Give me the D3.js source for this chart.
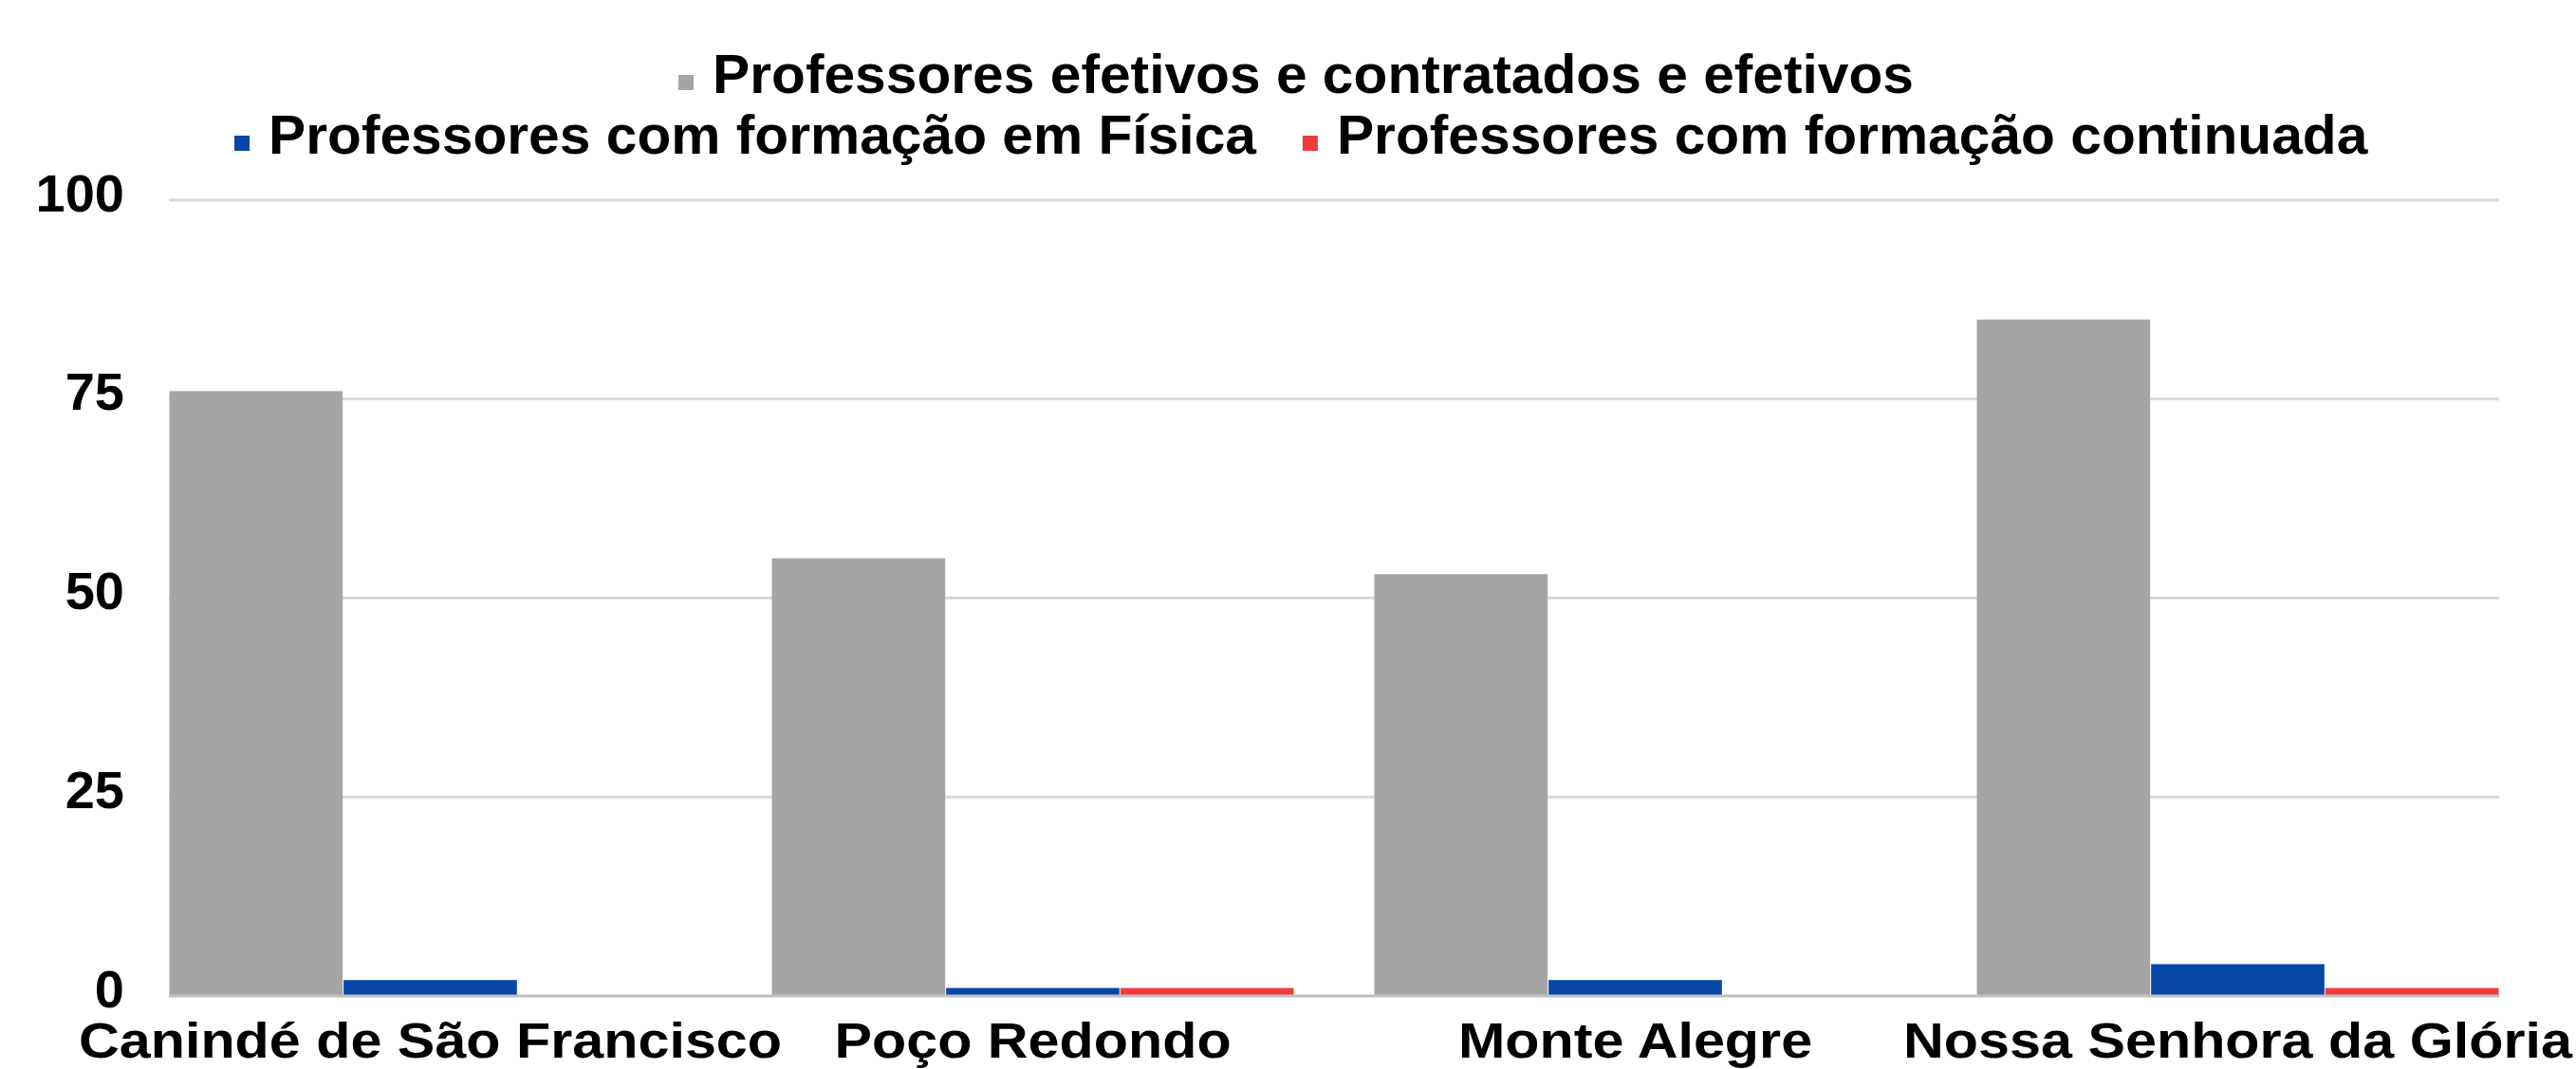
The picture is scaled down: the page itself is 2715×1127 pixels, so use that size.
<!DOCTYPE html>
<html>
<head>
<meta charset="utf-8">
<script src="https://cdn.jsdelivr.net/npm/d3@7"></script>
<style>
  body { margin: 0; background: #fff; }
  text { font-family: "Liberation Sans", Arial, sans-serif; font-weight: bold; fill: #000; }
</style>
</head>
<body>
<div id="chart"></div>
<script>
// data
var categories = ["Canindé de São Francisco", "Poço Redondo", "Monte Alegre", "Nossa Senhora da Glória"];
var seriesNames = [
  "Professores efetivos e contratados e efetivos",
  "Professores com formação em Física",
  "Professores com formação continuada"
];
var efetivos = [76, 55, 53, 85];
var fisica = [2, 1, 2, 4];
var continuada = [0, 1, 0, 1];
var yTicks = [0, 25, 50, 75, 100];

var colors = ["#a5a5a5", "#0747a6", "#ef3b3b"];

var svgWidth = 2715;
var svgHeight = 1127;

var margin = { top: 211, right: 81, bottom: 77, left: 178 };
var width = svgWidth - margin.left - margin.right;
var height = svgHeight - margin.top - margin.bottom;

var svg = d3.select("#chart")
  .append("svg")
  .attr("width", svgWidth)
  .attr("height", svgHeight);

var chartGroup = svg.append("g")
  .attr("transform", `translate(${margin.left}, ${margin.top})`);

var seriesValues = [efetivos, fisica, continuada];
var data = categories.map(function(c, i) {
  return { cat: c, values: seriesValues.map(function(s, j) { return { key: j, value: s[i] }; }) };
});

var x0 = d3.scaleBand()
  .domain(categories)
  .range([0, width])
  .paddingInner(0.1323)
  .paddingOuter(0);

var x1 = d3.scaleBand()
  .domain([0, 1, 2])
  .range([0, x0.bandwidth()]);

var yLinearScale = d3.scaleLinear()
  .domain([0, 100])
  .range([height, 0]);

// gridlines
chartGroup.selectAll(".grid")
  .data(yTicks.filter(d => d > 0))
  .enter()
  .append("line")
  .attr("x1", 0)
  .attr("x2", width)
  .attr("y1", d => yLinearScale(d))
  .attr("y2", d => yLinearScale(d))
  .attr("stroke", "#d9d9d9")
  .attr("stroke-width", 3);

// y axis labels
var leftAxis = d3.axisLeft(yLinearScale).tickValues(yTicks).tickSize(0).tickPadding(47);
var yAxis = chartGroup.append("g").call(leftAxis);
yAxis.select(".domain").remove();
yAxis.selectAll("text")
  .attr("font-size", "56px")
  .attr("font-family", "'Liberation Sans', Arial, sans-serif")
  .attr("font-weight", "bold")
  .attr("fill", "#000")
  .attr("dy", "0.2em");

// bars
var groups = chartGroup.selectAll(".group")
  .data(data)
  .enter()
  .append("g")
  .attr("transform", d => `translate(${x0(d.cat)}, 0)`);

groups.selectAll("rect")
  .data(d => d.values)
  .enter()
  .append("rect")
  .attr("x", d => x1(d.key) + 0.5)
  .attr("width", x1.bandwidth() - 1)
  .attr("y", d => yLinearScale(d.value))
  .attr("height", d => height - yLinearScale(d.value))
  .attr("fill", d => colors[d.key]);

// baseline
chartGroup.append("line")
  .attr("x1", 0)
  .attr("x2", width)
  .attr("y1", height)
  .attr("y2", height)
  .attr("stroke", "#bfbfbf")
  .attr("stroke-width", 3);

// category labels
var bottomAxis = d3.axisBottom(x0).tickSize(0).tickPadding(0);
var xAxis = chartGroup.append("g")
  .attr("transform", `translate(0, ${height})`)
  .call(bottomAxis);
xAxis.select(".domain").remove();
xAxis.selectAll(".tick text")
  .attr("font-size", "52px")
  .attr("font-family", "'Liberation Sans', Arial, sans-serif")
  .attr("font-weight", "bold")
  .attr("fill", "#000")
  .attr("y", 65)
  .attr("dy", 0)
  .attr("transform", "scale(1.14, 1)");

// legend
var legend = svg.append("g");
var legendFont = 57;

function legendItem(x, y, idx) {
  var g = legend.append("g").attr("transform", `translate(${x}, ${y})`);
  g.append("rect")
    .attr("x", 0)
    .attr("y", -19)
    .attr("width", 16)
    .attr("height", 16)
    .attr("fill", colors[idx]);
  var t = g.append("text")
    .attr("x", 35)
    .attr("y", 0)
    .attr("font-size", legendFont + "px")
    .attr("transform", "scale(1.03, 1)")
    .text(seriesNames[idx]);
  return 35 + t.node().getComputedTextLength() * 1.03;
}

legendItem(715, 98, 0);
var w1 = legendItem(247, 162, 1);
legendItem(247 + w1 + 50, 162, 2);
</script>
</body>
</html>
